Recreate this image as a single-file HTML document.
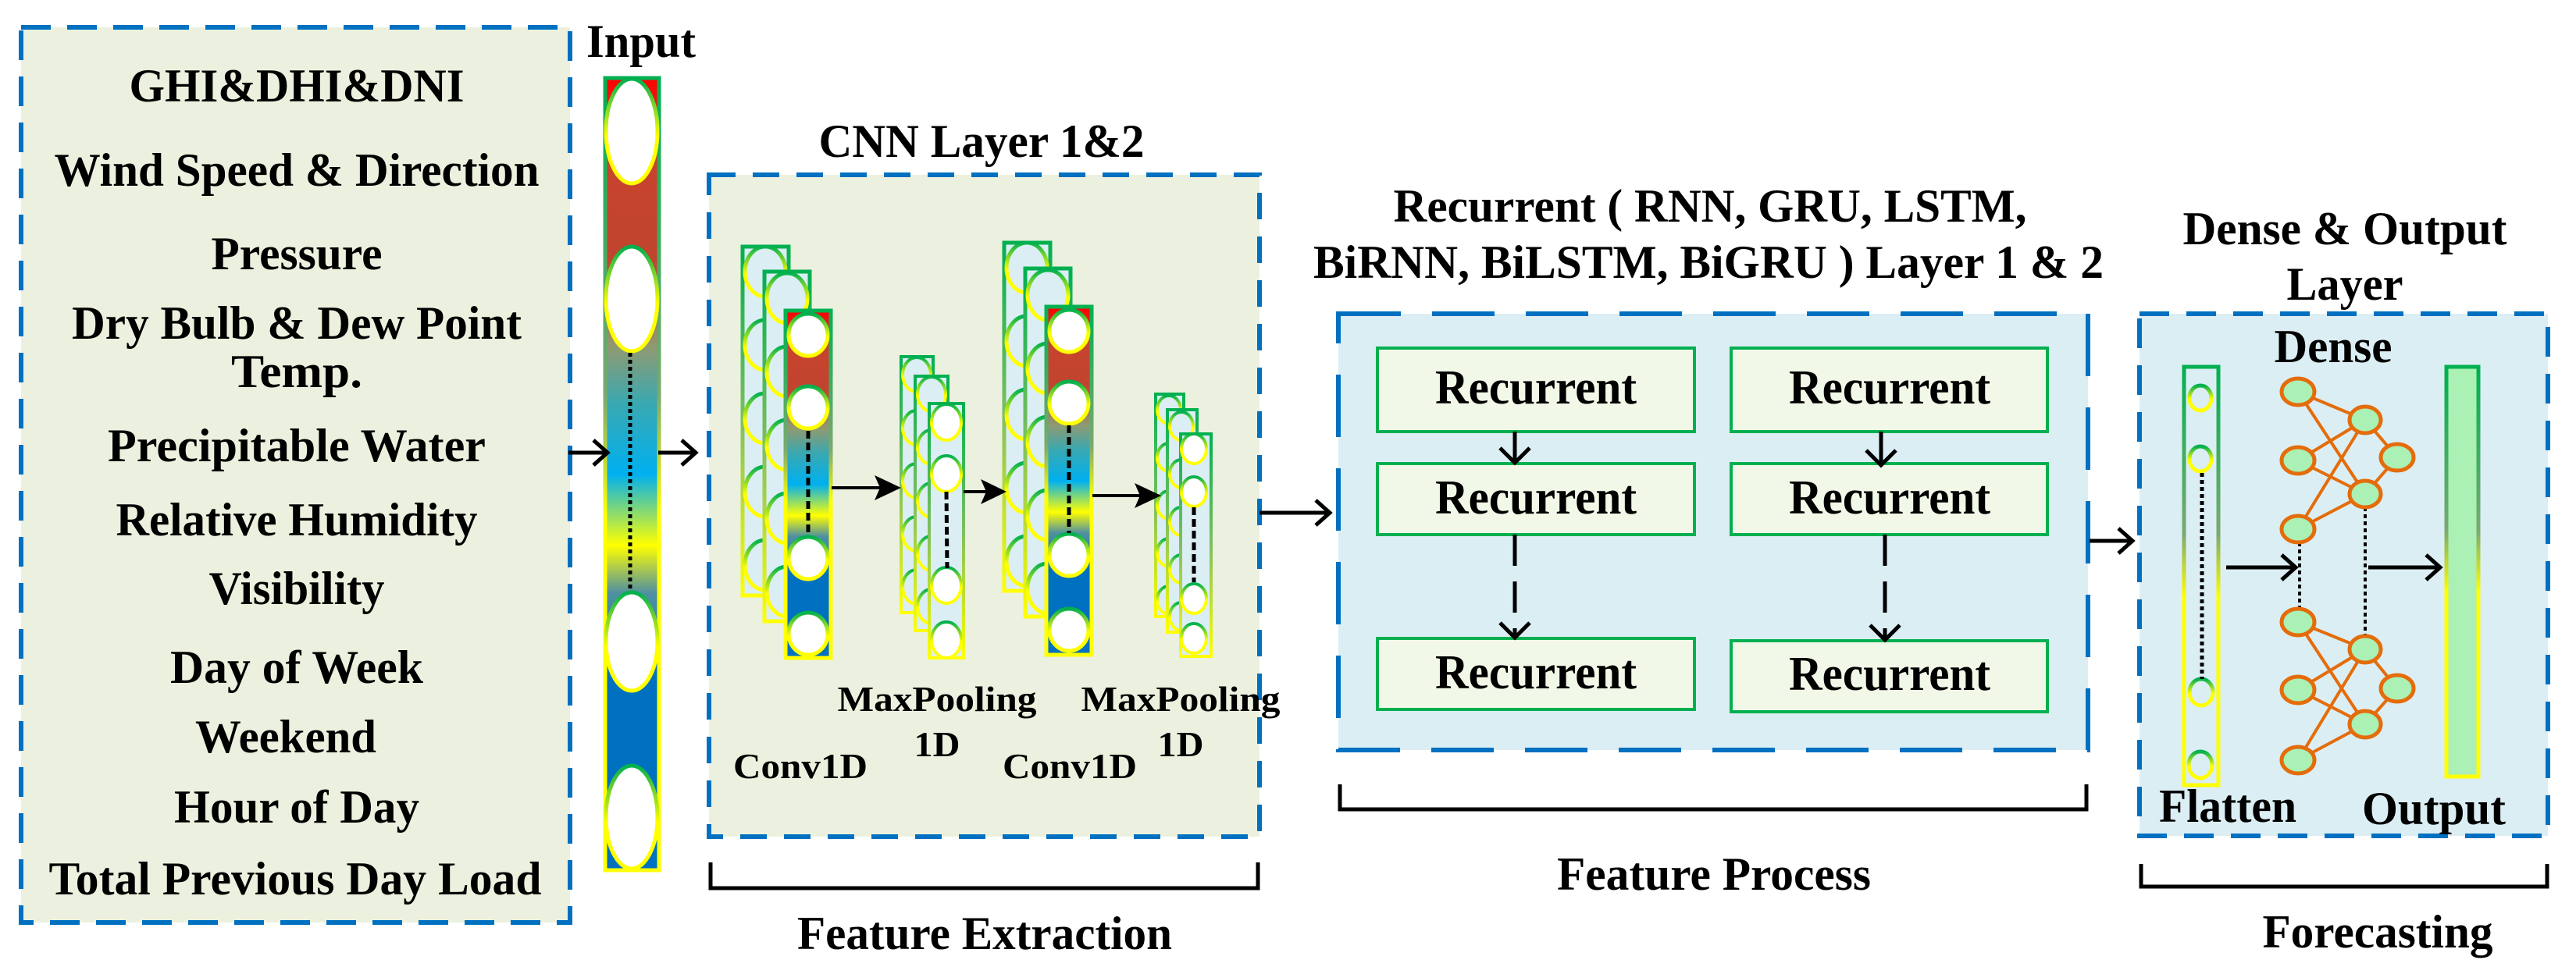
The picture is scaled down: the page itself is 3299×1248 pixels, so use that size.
<!DOCTYPE html>
<html><head><meta charset="utf-8"><style>
html,body{margin:0;padding:0;background:#fff;}
svg{display:block;}
text{font-family:"Liberation Serif",serif;font-weight:bold;fill:#000;}
</style></head><body>
<svg width="3299" height="1248" viewBox="0 0 3299 1248" xmlns="http://www.w3.org/2000/svg">
<defs>
<linearGradient id="gy" x1="0" y1="0" x2="0" y2="1"><stop offset="0" stop-color="#00b050"/><stop offset="0.5" stop-color="#7fbf60"/><stop offset="1" stop-color="#ffff00"/></linearGradient>
<linearGradient id="gyc" x1="0" y1="0" x2="0" y2="1"><stop offset="0" stop-color="#00b050"/><stop offset="0.55" stop-color="#ffff00"/><stop offset="1" stop-color="#ffff00"/></linearGradient>
<linearGradient id="inp" x1="0" y1="0" x2="0" y2="1">
<stop offset="0" stop-color="#ff0000"/><stop offset="0.1" stop-color="#c8432e"/><stop offset="0.23" stop-color="#c0452e"/>
<stop offset="0.34" stop-color="#8f9a72"/><stop offset="0.41" stop-color="#3aa8b0"/><stop offset="0.5" stop-color="#00b0f0"/>
<stop offset="0.59" stop-color="#ffff00"/><stop offset="0.65" stop-color="#5090a0"/><stop offset="0.76" stop-color="#0070c0"/><stop offset="1" stop-color="#0070c0"/></linearGradient>
<linearGradient id="outg" x1="0" y1="0" x2="0" y2="1"><stop offset="0" stop-color="#00b050"/><stop offset="0.4" stop-color="#7aaa70"/><stop offset="0.55" stop-color="#ffff00"/><stop offset="1" stop-color="#ffff00"/></linearGradient>
<marker id="fa" markerWidth="10" markerHeight="10" refX="9" refY="5" orient="auto" markerUnits="userSpaceOnUse" viewBox="0 0 10 10"></marker>
</defs>

<!-- Left input features box -->
<rect x="27" y="35" width="703" height="1147" fill="#ebf1de" stroke="#0070c0" stroke-width="6" stroke-dasharray="38 21"/>
<g font-size="60" text-anchor="middle">
<text x="380" y="130" textLength="429" lengthAdjust="spacingAndGlyphs">GHI&amp;DHI&amp;DNI</text>
<text x="380" y="238" textLength="621" lengthAdjust="spacingAndGlyphs">Wind Speed &amp; Direction</text>
<text x="380" y="345" textLength="219" lengthAdjust="spacingAndGlyphs">Pressure</text>
<text x="380" y="434" textLength="576" lengthAdjust="spacingAndGlyphs">Dry Bulb &amp; Dew Point</text>
<text x="380" y="496" textLength="168" lengthAdjust="spacingAndGlyphs">Temp.</text>
<text x="380" y="591" textLength="484" lengthAdjust="spacingAndGlyphs">Precipitable Water</text>
<text x="380" y="686" textLength="463" lengthAdjust="spacingAndGlyphs">Relative Humidity</text>
<text x="380" y="774" textLength="225" lengthAdjust="spacingAndGlyphs">Visibility</text>
<text x="380" y="875" textLength="324" lengthAdjust="spacingAndGlyphs">Day of Week</text>
<text x="366" y="964" textLength="232" lengthAdjust="spacingAndGlyphs">Weekend</text>
<text x="380" y="1054" textLength="314" lengthAdjust="spacingAndGlyphs">Hour of Day</text>
<text x="378" y="1146" textLength="631" lengthAdjust="spacingAndGlyphs">Total Previous Day Load</text>
</g>

<!-- Input column -->
<text x="821" y="73" font-size="60" text-anchor="middle" textLength="140" lengthAdjust="spacingAndGlyphs">Input</text>
<rect x="775" y="100" width="69" height="1015" fill="url(#inp)" stroke="url(#outg)" stroke-width="5"/>
<g fill="#fff" stroke="url(#gyc)" stroke-width="5">
<ellipse cx="809" cy="168" rx="33" ry="67"/>
<ellipse cx="809" cy="383" rx="33" ry="67"/>
<ellipse cx="809" cy="822" rx="33" ry="63"/>
<ellipse cx="809" cy="1047" rx="33" ry="66"/>
</g>
<line x1="807" y1="452" x2="807" y2="758" stroke="#000" stroke-width="5" stroke-dasharray="5 4"/>

<!-- arrows to/from input -->
<g stroke="#000" stroke-width="5" fill="none">
<line x1="728" y1="580" x2="778" y2="580"/><polyline points="760,564 778,580 760,596"/>
<line x1="843" y1="580" x2="891" y2="580"/><polyline points="873,564 891,580 873,596"/>
</g>

<!-- CNN box -->
<text x="1257" y="201" font-size="60" text-anchor="middle" textLength="417" lengthAdjust="spacingAndGlyphs">CNN Layer 1&amp;2</text>
<rect x="908" y="224" width="705" height="848" fill="#ebf1de" stroke="#0070c0" stroke-width="6" stroke-dasharray="34 22"/>

<!-- Conv1D stack 1 -->
<g stroke-width="5">
<rect x="951" y="316" width="59" height="447" fill="#dbeef4" stroke="url(#gy)"/>
<g fill="#dbeef4" stroke="url(#gyc)"><ellipse cx="980" cy="348" rx="26" ry="32"/><ellipse cx="980" cy="442" rx="26" ry="32"/><ellipse cx="980" cy="536" rx="26" ry="32"/><ellipse cx="980" cy="630" rx="26" ry="32"/><ellipse cx="980" cy="724" rx="26" ry="32"/></g>
<rect x="979" y="348" width="58" height="448" fill="#dbeef4" stroke="url(#gy)"/>
<g fill="#dbeef4" stroke="url(#gyc)"><ellipse cx="1008" cy="382" rx="26" ry="32"/><ellipse cx="1008" cy="476" rx="26" ry="32"/><ellipse cx="1008" cy="570" rx="26" ry="32"/><ellipse cx="1008" cy="664" rx="26" ry="32"/><ellipse cx="1008" cy="758" rx="26" ry="32"/></g>
<rect x="1006" y="398" width="58" height="445" fill="url(#inp)" stroke="url(#outg)"/>
<g fill="#fff" stroke="url(#gyc)"><ellipse cx="1035" cy="429" rx="25" ry="27"/><ellipse cx="1035" cy="522" rx="25" ry="27"/><ellipse cx="1035" cy="715" rx="25" ry="27"/><ellipse cx="1035" cy="812" rx="25" ry="27"/></g>
</g>
<line x1="1035" y1="552" x2="1035" y2="686" stroke="#000" stroke-width="5" stroke-dasharray="10 5"/>

<!-- MaxPool 1 -->
<g stroke-width="4">
<rect x="1154" y="457" width="41" height="328" fill="#dbeef4" stroke="url(#gy)"/>
<g fill="#dbeef4" stroke="url(#gyc)"><ellipse cx="1174" cy="480" rx="18" ry="22"/><ellipse cx="1174" cy="548" rx="18" ry="22"/><ellipse cx="1174" cy="616" rx="18" ry="22"/><ellipse cx="1174" cy="684" rx="18" ry="22"/><ellipse cx="1174" cy="752" rx="18" ry="22"/></g>
<rect x="1172" y="482" width="42" height="326" fill="#dbeef4" stroke="url(#gy)"/>
<g fill="#dbeef4" stroke="url(#gyc)"><ellipse cx="1193" cy="505" rx="18" ry="22"/><ellipse cx="1193" cy="573" rx="18" ry="22"/><ellipse cx="1193" cy="641" rx="18" ry="22"/><ellipse cx="1193" cy="709" rx="18" ry="22"/><ellipse cx="1193" cy="777" rx="18" ry="22"/></g>
<rect x="1190" y="517" width="44" height="326" fill="#dbeef4" stroke="url(#gy)"/>
<g fill="#fff" stroke="url(#gyc)"><ellipse cx="1212" cy="541" rx="19" ry="23"/><ellipse cx="1212" cy="607" rx="19" ry="23"/><ellipse cx="1212" cy="750" rx="19" ry="23"/><ellipse cx="1212" cy="820" rx="19" ry="23"/></g>
</g>
<line x1="1212" y1="630" x2="1213" y2="728" stroke="#000" stroke-width="5" stroke-dasharray="10 5"/>

<!-- Conv1D stack 2 -->
<g stroke-width="5">
<rect x="1286" y="311" width="59" height="446" fill="#dbeef4" stroke="url(#gy)"/>
<g fill="#dbeef4" stroke="url(#gyc)"><ellipse cx="1315" cy="343" rx="26" ry="32"/><ellipse cx="1315" cy="437" rx="26" ry="32"/><ellipse cx="1315" cy="531" rx="26" ry="32"/><ellipse cx="1315" cy="625" rx="26" ry="32"/><ellipse cx="1315" cy="719" rx="26" ry="32"/></g>
<rect x="1313" y="344" width="58" height="446" fill="#dbeef4" stroke="url(#gy)"/>
<g fill="#dbeef4" stroke="url(#gyc)"><ellipse cx="1342" cy="378" rx="26" ry="32"/><ellipse cx="1342" cy="472" rx="26" ry="32"/><ellipse cx="1342" cy="566" rx="26" ry="32"/><ellipse cx="1342" cy="660" rx="26" ry="32"/><ellipse cx="1342" cy="754" rx="26" ry="32"/></g>
<rect x="1340" y="393" width="58" height="446" fill="url(#inp)" stroke="url(#outg)"/>
<g fill="#fff" stroke="url(#gyc)"><ellipse cx="1369" cy="424" rx="25" ry="27"/><ellipse cx="1369" cy="516" rx="25" ry="27"/><ellipse cx="1369" cy="711" rx="25" ry="27"/><ellipse cx="1369" cy="807" rx="25" ry="27"/></g>
</g>
<line x1="1369" y1="545" x2="1369" y2="683" stroke="#000" stroke-width="5" stroke-dasharray="10 5"/>

<!-- MaxPool 2 -->
<g stroke-width="4">
<rect x="1480" y="505" width="36" height="285" fill="#dbeef4" stroke="url(#gy)"/>
<g fill="#dbeef4" stroke="url(#gyc)"><ellipse cx="1497" cy="525" rx="15" ry="18"/><ellipse cx="1497" cy="586" rx="15" ry="18"/><ellipse cx="1497" cy="647" rx="15" ry="18"/><ellipse cx="1497" cy="708" rx="15" ry="18"/><ellipse cx="1497" cy="769" rx="15" ry="18"/></g>
<rect x="1495" y="525" width="38" height="285" fill="#dbeef4" stroke="url(#gy)"/>
<g fill="#dbeef4" stroke="url(#gyc)"><ellipse cx="1513" cy="546" rx="15" ry="18"/><ellipse cx="1513" cy="607" rx="15" ry="18"/><ellipse cx="1513" cy="668" rx="15" ry="18"/><ellipse cx="1513" cy="729" rx="15" ry="18"/><ellipse cx="1513" cy="790" rx="15" ry="18"/></g>
<rect x="1512" y="556" width="39" height="285" fill="#dbeef4" stroke="url(#gy)"/>
<g fill="#fff" stroke="url(#gyc)"><ellipse cx="1529" cy="575" rx="16" ry="19"/><ellipse cx="1529" cy="630" rx="16" ry="19"/><ellipse cx="1529" cy="767" rx="16" ry="19"/><ellipse cx="1529" cy="818" rx="16" ry="19"/></g>
</g>
<line x1="1529" y1="650" x2="1529" y2="746" stroke="#000" stroke-width="5" stroke-dasharray="10 5"/>

<!-- CNN internal arrows -->
<g stroke="#000" stroke-width="4">
<line x1="1065" y1="625" x2="1140" y2="625"/>
<line x1="1234" y1="630" x2="1275" y2="630"/>
<line x1="1399" y1="635" x2="1472" y2="635"/>
</g>
<g fill="#000">
<polygon points="1154,625 1120,609 1127,625 1120,641"/>
<polygon points="1289,630 1256,614 1263,630 1256,646"/>
<polygon points="1487,635 1453,619 1460,635 1453,651"/>
</g>

<g font-size="46" text-anchor="middle">
<text x="1025" y="997" textLength="172" lengthAdjust="spacingAndGlyphs">Conv1D</text>
<text x="1200" y="911" textLength="255" lengthAdjust="spacingAndGlyphs">MaxPooling</text>
<text x="1200" y="969" textLength="59" lengthAdjust="spacingAndGlyphs">1D</text>
<text x="1370" y="997" textLength="172" lengthAdjust="spacingAndGlyphs">Conv1D</text>
<text x="1512" y="911" textLength="255" lengthAdjust="spacingAndGlyphs">MaxPooling</text>
<text x="1512" y="969" textLength="59" lengthAdjust="spacingAndGlyphs">1D</text>
</g>

<!-- CNN bracket -->
<polyline points="910,1105 910,1138 1611,1138 1611,1105" fill="none" stroke="#000" stroke-width="5"/>
<text x="1261" y="1216" font-size="60" text-anchor="middle" textLength="480" lengthAdjust="spacingAndGlyphs">Feature Extraction</text>

<!-- CNN -> Recurrent arrow -->
<g stroke="#000" stroke-width="5" fill="none">
<line x1="1613" y1="657" x2="1703" y2="657"/><polyline points="1685,641 1703,657 1685,673"/>
</g>

<!-- Recurrent box -->
<text x="2190" y="284" font-size="60" text-anchor="middle" textLength="811" lengthAdjust="spacingAndGlyphs">Recurrent ( RNN, GRU, LSTM,</text>
<text x="2188" y="356" font-size="60" text-anchor="middle" textLength="1012" lengthAdjust="spacingAndGlyphs">BiRNN, BiLSTM, BiGRU ) Layer 1 &amp; 2</text>
<rect x="1714" y="402" width="960" height="559" fill="#dbeef4" stroke="#0070c0" stroke-width="6" stroke-dasharray="80 40"/>
<g fill="#f2f8e8" stroke="#00b050" stroke-width="4">
<rect x="1764" y="446" width="406" height="107"/>
<rect x="2217" y="446" width="405" height="107"/>
<rect x="1764" y="594" width="406" height="91"/>
<rect x="2217" y="594" width="405" height="91"/>
<rect x="1764" y="818" width="406" height="91"/>
<rect x="2217" y="821" width="405" height="91"/>
</g>
<g font-size="62" text-anchor="middle">
<text x="1967" y="517" textLength="258" lengthAdjust="spacingAndGlyphs">Recurrent</text>
<text x="2420" y="517" textLength="258" lengthAdjust="spacingAndGlyphs">Recurrent</text>
<text x="1967" y="658" textLength="258" lengthAdjust="spacingAndGlyphs">Recurrent</text>
<text x="2420" y="658" textLength="258" lengthAdjust="spacingAndGlyphs">Recurrent</text>
<text x="1967" y="882" textLength="258" lengthAdjust="spacingAndGlyphs">Recurrent</text>
<text x="2420" y="884" textLength="258" lengthAdjust="spacingAndGlyphs">Recurrent</text>
</g>
<g stroke="#000" stroke-width="5" fill="none">
<line x1="1940" y1="553" x2="1940" y2="593"/><polyline points="1921,574 1940,593 1959,574"/>
<line x1="2409" y1="553" x2="2409" y2="596"/><polyline points="2390,577 2409,596 2428,577"/>
<line x1="1940" y1="685" x2="1940" y2="817" stroke-dasharray="40 20"/><polyline points="1921,798 1940,817 1959,798"/>
<line x1="2414" y1="685" x2="2414" y2="820" stroke-dasharray="40 20"/><polyline points="2395,801 2414,820 2433,801"/>
</g>
<polyline points="1716,1005 1716,1037 2672,1037 2672,1005" fill="none" stroke="#000" stroke-width="5"/>
<text x="2195" y="1140" font-size="60" text-anchor="middle" textLength="402" lengthAdjust="spacingAndGlyphs">Feature Process</text>

<!-- Recurrent -> Dense arrow -->
<g stroke="#000" stroke-width="5" fill="none">
<line x1="2676" y1="693" x2="2731" y2="693"/><polyline points="2713,677 2731,693 2713,709"/>
</g>

<!-- Dense box -->
<text x="3003" y="313" font-size="60" text-anchor="middle" textLength="415" lengthAdjust="spacingAndGlyphs">Dense &amp; Output</text>
<text x="3003" y="384" font-size="60" text-anchor="middle" textLength="149" lengthAdjust="spacingAndGlyphs">Layer</text>
<rect x="2740" y="402" width="523" height="669" fill="#dbeef4" stroke="#0070c0" stroke-width="6" stroke-dasharray="38 22"/>
<text x="2988" y="464" font-size="60" text-anchor="middle" textLength="151" lengthAdjust="spacingAndGlyphs">Dense</text>

<!-- Flatten -->
<rect x="2797" y="470" width="44" height="536" fill="none" stroke="url(#outg)" stroke-width="5"/>
<g fill="none" stroke="url(#gyc)" stroke-width="5">
<ellipse cx="2818" cy="510" rx="14" ry="16"/><ellipse cx="2818" cy="588" rx="14" ry="16"/>
<ellipse cx="2819" cy="887" rx="15" ry="17"/><ellipse cx="2818" cy="980" rx="15" ry="17"/>
</g>
<line x1="2820" y1="606" x2="2820" y2="870" stroke="#000" stroke-width="5" stroke-dasharray="5 4"/>

<!-- Neural net -->
<g stroke="#e46c0a" stroke-width="4" fill="none">
<path d="M2943,502 L3029,538 M2943,502 L3029,633 M2943,590 L3029,538 M2943,590 L3029,633 M2943,678 L3029,538 M2943,678 L3029,633 M3029,538 L3070,586 M3029,633 L3070,586"/>
<path d="M2943,797 L3029,832 M2943,797 L3029,928 M2943,884 L3029,832 M2943,884 L3029,928 M2943,974 L3029,832 M2943,974 L3029,928 M3029,832 L3070,882 M3029,928 L3070,882"/>
</g>
<g stroke="#000" stroke-width="4" stroke-dasharray="5 4">
<line x1="2945" y1="695" x2="2945" y2="780"/>
<line x1="3029" y1="650" x2="3029" y2="815"/>
</g>
<g fill="#abf0b4" stroke="#e46c0a" stroke-width="5">
<ellipse cx="2943" cy="502" rx="21" ry="17"/><ellipse cx="2943" cy="590" rx="21" ry="17"/><ellipse cx="2943" cy="678" rx="21" ry="17"/>
<ellipse cx="2943" cy="797" rx="21" ry="17"/><ellipse cx="2943" cy="884" rx="21" ry="17"/><ellipse cx="2943" cy="974" rx="21" ry="17"/>
<ellipse cx="3029" cy="538" rx="20" ry="17"/><ellipse cx="3029" cy="633" rx="20" ry="17"/><ellipse cx="3029" cy="832" rx="20" ry="17"/><ellipse cx="3029" cy="928" rx="20" ry="17"/>
<ellipse cx="3070" cy="586" rx="21" ry="17"/><ellipse cx="3070" cy="882" rx="21" ry="17"/>
</g>

<!-- Output bar -->
<rect x="3133" y="470" width="41" height="525" fill="#abf0b4" stroke="url(#outg)" stroke-width="5"/>

<g stroke="#000" stroke-width="5" fill="none">
<line x1="2851" y1="727" x2="2940" y2="727"/><polyline points="2922,711 2940,727 2922,743"/>
<line x1="3033" y1="727" x2="3125" y2="727"/><polyline points="3107,711 3125,727 3107,743"/>
</g>

<text x="2853" y="1053" font-size="60" text-anchor="middle" textLength="176" lengthAdjust="spacingAndGlyphs">Flatten</text>
<text x="3117" y="1056" font-size="60" text-anchor="middle" textLength="184" lengthAdjust="spacingAndGlyphs">Output</text>

<polyline points="2742,1107 2742,1136 3262,1136 3262,1107" fill="none" stroke="#000" stroke-width="5"/>
<text x="3045" y="1214" font-size="60" text-anchor="middle" textLength="295" lengthAdjust="spacingAndGlyphs">Forecasting</text>
</svg>
</body></html>
